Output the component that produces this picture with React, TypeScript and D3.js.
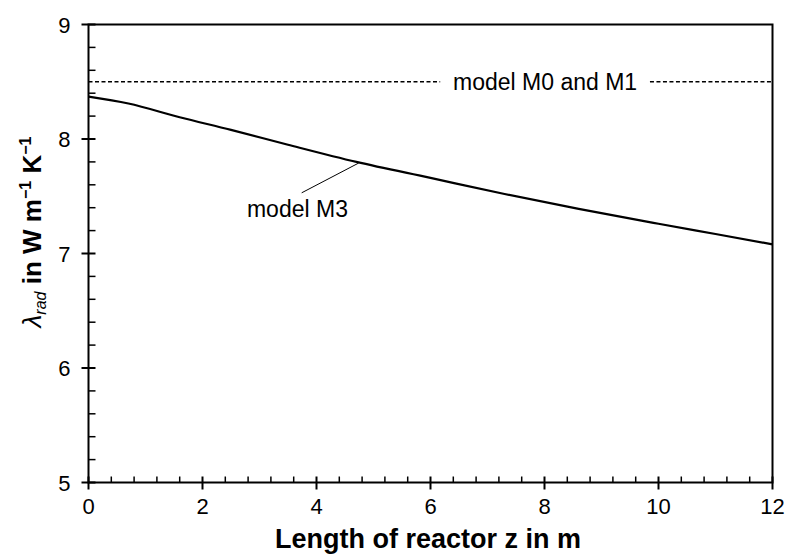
import React from "react";
import * as d3 from "d3";

const zValues = [0, 0.7, 1.6, 2.5, 3.5, 4.7, 6.0, 7.3, 8.6, 10.0, 11.0, 12];
const m3Values = [8.37, 8.31, 8.19, 8.08, 7.95, 7.80, 7.66, 7.52, 7.39, 7.26, 7.17, 7.08];
const m01Value = 8.5;
const xTicks = [0, 2, 4, 6, 8, 10, 12];
const yTicks = [5, 6, 7, 8, 9];
const labelM3 = "model M3";
const labelM01 = "model M0 and M1";
const m3Leader = [[3.74, 7.53], [4.74, 7.79]];
const m3LabelPos = [2.78, 7.32];
const gapStart = 6.17;
const gapEnd = 9.85;

export default function App() {
  const W = 785, H = 556;
  const x = d3.scaleLinear().domain([0, 12]).range([88.5, 772.5]);
  const y = d3.scaleLinear().domain([5, 9]).range([482.5, 24.5]);
  const line = d3.line<number>()
    .x((_, i) => x(zValues[i]))
    .y((d) => y(d))
    .curve(d3.curveMonotoneX);
  const xMinor = d3.range(0, 12.001, 0.4).filter((v) => Math.abs(v / 2 - Math.round(v / 2)) > 1e-6);
  const yMinor = d3.range(5, 9.001, 0.2).filter((v) => Math.abs(v - Math.round(v)) > 1e-6);
  const font = "Liberation Sans, Arial, sans-serif";
  return (
    <svg width={W} height={H} style={{ position: "absolute", left: 0, top: 0, background: "#fff" }} fontFamily={font}>
      <rect x={0} y={0} width={W} height={H} fill="#fff" />
      {/* dashed M0/M1 */}
      <line x1={x(0)} x2={x(gapStart)} y1={y(m01Value)} y2={y(m01Value)} stroke="#000" strokeWidth={1.5} strokeDasharray="4,2.5" />
      <line x1={x(gapEnd)} x2={x(12)} y1={y(m01Value)} y2={y(m01Value)} stroke="#000" strokeWidth={1.5} strokeDasharray="4,2.5" />
      <text x={(x(gapStart) + x(gapEnd)) / 2} y={y(m01Value) + 8} fontSize={23} textAnchor="middle">{labelM01}</text>
      {/* M3 */}
      <path d={line(m3Values) || ""} fill="none" stroke="#000" strokeWidth={2.2} />
      <line x1={x(m3Leader[0][0])} y1={y(m3Leader[0][1])} x2={x(m3Leader[1][0])} y2={y(m3Leader[1][1])} stroke="#000" strokeWidth={1} />
      <text x={x(m3LabelPos[0])} y={y(m3LabelPos[1])} fontSize={23}>{labelM3}</text>
      {/* frame */}
      <rect x={x(0)} y={y(9)} width={x(12) - x(0)} height={y(5) - y(9)} fill="none" stroke="#000" strokeWidth={2} />
      {/* x ticks */}
      {xTicks.map((t) => (
        <g key={"xt" + t}>
          <line x1={x(t)} x2={x(t)} y1={y(5) - 6} y2={y(5) + 7} stroke="#000" strokeWidth={2} />
          <text x={x(t)} y={y(5) + 31} fontSize={22} textAnchor="middle">{t}</text>
        </g>
      ))}
      {xMinor.map((t) => (
        <line key={"xm" + t} x1={x(t)} x2={x(t)} y1={y(5) - 6} y2={y(5)} stroke="#000" strokeWidth={1.5} />
      ))}
      {/* y ticks */}
      {yTicks.map((t) => (
        <g key={"yt" + t}>
          <line x1={x(0) - 7} x2={x(0) + 7} y1={y(t)} y2={y(t)} stroke="#000" strokeWidth={2} />
          <text x={x(0) - 18} y={y(t) + 8} fontSize={22} textAnchor="end">{t}</text>
        </g>
      ))}
      {yMinor.map((t) => (
        <line key={"ym" + t} x1={x(0)} x2={x(0) + 7} y1={y(t)} y2={y(t)} stroke="#000" strokeWidth={1.5} />
      ))}
      {/* axis titles */}
      <text x={428} y={548} fontSize={27} fontWeight="bold" textAnchor="middle">Length of reactor z in m</text>
      <text transform="translate(41,232) rotate(-90)" fontSize={26} textAnchor="middle">
        <tspan fontStyle="italic">λ</tspan>
        <tspan fontStyle="italic" fontSize={16} dy={5}>rad</tspan>
        <tspan fontWeight="bold" dy={-5}> in W m</tspan>
        <tspan fontWeight="bold" fontSize={16} dy={-10}>−1</tspan>
        <tspan fontWeight="bold" dy={10}> K</tspan>
        <tspan fontWeight="bold" fontSize={16} dy={-10}>−1</tspan>
      </text>
    </svg>
  );
}
